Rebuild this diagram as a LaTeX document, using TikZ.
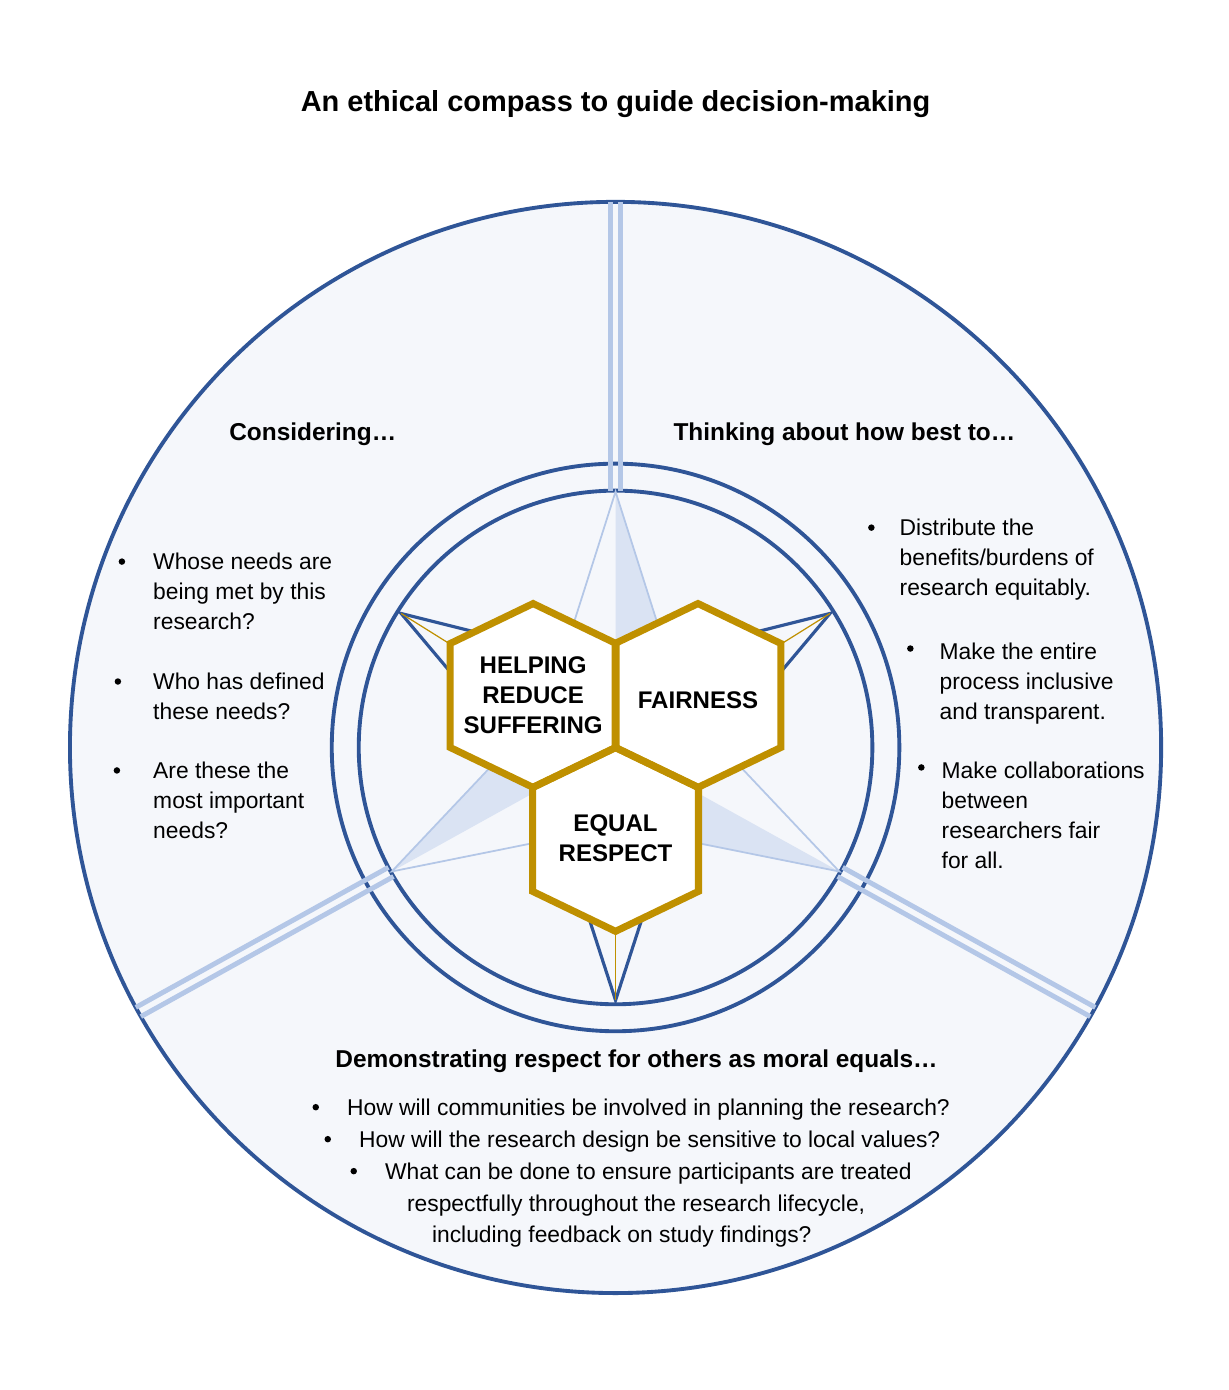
\documentclass[tikz,border=0pt]{standalone}
\usepackage{fontspec}
\setmainfont{Liberation Sans}
\definecolor{compassblue}{RGB}{47,85,151}
\definecolor{paleline}{RGB}{180,199,231}
\definecolor{palefill}{RGB}{218,227,243}
\definecolor{backfill}{RGB}{245,247,251}
\definecolor{hexgold}{RGB}{191,144,0}
\begin{document}
\begin{tikzpicture}[scale=1.0,
    ring/.style={draw=compassblue, line width=2.2pt},
    spoke/.style={draw=paleline, line width=2.8pt},
    hexcell/.style={draw=hexgold, line width=4pt, line join=miter},
    heading/.style={anchor=base, inner sep=0pt, font=\fontsize{13.9}{17}\selectfont\bfseries},
    item/.style={anchor=north west, align=left, inner sep=0pt, font=\fontsize{13}{17.07}\selectfont},
    hexlabel/.style={align=center, inner sep=0pt, font=\fontsize{13.7}{17.07}\selectfont\bfseries}]
    \useasboundingbox (-12.32,-12.86) rectangle (12.26,14.96);
    \fill[backfill] (0,0) circle (10.92);
    \foreach \r in {10.92,5.68,5.14} \draw[ring] (0,0) circle (\r);
    \foreach \a in {90,209,331} {
        \draw[spoke, rotate=\a] (5.14,0.105) -- (10.92,0.105) (5.14,-0.105) -- (10.92,-0.105);
    }
    \foreach \a in {90,209,331} {
        \fill[palefill] (\a:5.12) -- (0,0) -- ({\a-30}:2.1) -- cycle;
        \draw[paleline, line width=1pt] ({\a+30}:2.1) -- (\a:5.12) -- ({\a-30}:2.1);
    }
    \foreach \a in {148,32,270} {
        \draw[compassblue, line width=1.8pt] ({\a+30}:2.1) -- (\a:5.06) -- ({\a-30}:2.1);
        \draw[hexgold, line width=0.7pt] (\a:5.06) -- (0,0);
    }
    \foreach \x/\y in {0/-1.84,-1.65/1.04,1.65/1.04}
        \fill[white] ({\x-1.66},{\y+1.04}) -- (\x,{\y+1.84}) -- ({\x+1.66},{\y+1.04}) -- ({\x+1.66},{\y-1.04}) -- (\x,{\y-1.84}) -- ({\x-1.66},{\y-1.04}) -- cycle;
    \foreach \x/\y in {0/-1.84,-1.65/1.04,1.65/1.04}
        \draw[hexcell] ({\x-1.66},{\y+1.04}) -- (\x,{\y+1.84}) -- ({\x+1.66},{\y+1.04}) -- ({\x+1.66},{\y-1.04}) -- (\x,{\y-1.84}) -- ({\x-1.66},{\y-1.04}) -- cycle;
    \node[hexlabel] (hexhelp) at (-1.65,1.04) {HELPING\\REDUCE\\SUFFERING};
    \node[hexlabel] (hexfair) at (1.65,0.94) {FAIRNESS};
    \node[hexlabel] (hexequal) at (0,-1.82) {EQUAL\\RESPECT};
    \node[anchor=base, inner sep=0pt, font=\fontsize{16.5}{20}\selectfont\bfseries] (title) at (0,12.72) {An ethical compass to guide decision-making};
    \node[heading] (consid) at (-6.06,6.14) {Considering…};
    \node[heading] (thinking) at (4.58,6.14) {Thinking about how best to…};
    \node[heading] (demonstr) at (0.42,-6.40) {Demonstrating respect for others as moral equals…};
    \node[item] (needs1) at (-9.26,3.90) {Whose needs are\\being met by this\\research?};
    \node[item] (needs2) at (-9.26,1.50) {Who has defined\\these needs?};
    \node[item] (needs3) at (-9.26,-0.28) {Are these the\\most important\\needs?};
    \fill (-9.88,3.72) circle (0.065) (-9.96,1.32) circle (0.065) (-9.98,-0.46) circle (0.065);
    \node[item] (best1) at (5.68,4.58) {Distribute the\\benefits/burdens of\\research equitably.};
    \node[item] (best2) at (6.48,2.10) {Make the entire\\process inclusive\\and transparent.};
    \node[item] (best3) at (6.52,-0.28) {Make collaborations\\between\\researchers fair\\for all.};
    \fill (5.12,4.40) circle (0.065) (5.90,1.98) circle (0.065) (6.12,-0.40) circle (0.065);
    \node[item] (equal1) at (-5.38,-7.02) {How will communities be involved in planning the research?};
    \node[item] (equal2) at (-5.14,-7.66) {How will the research design be sensitive to local values?};
    \node[item, font=\fontsize{13}{18.2}\selectfont] (equal3) at (-4.62,-8.30) {What can be done to ensure participants are treated\\\hspace*{0.44cm}respectfully throughout the research lifecycle,\\\hspace*{0.94cm}including feedback on study findings?};
    \fill (-6.00,-7.20) circle (0.065) (-5.76,-7.84) circle (0.065) (-5.24,-8.48) circle (0.065);
\end{tikzpicture}
\end{document}
